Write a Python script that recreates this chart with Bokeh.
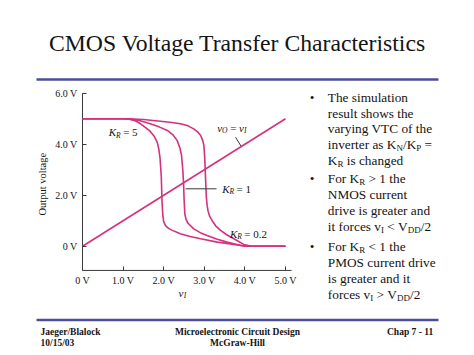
import math
from bokeh.plotting import figure
from bokeh.models import LinearAxis, FixedTicker, Range1d
from bokeh.core.properties import value
from bokeh.embed import file_html
from bokeh.resources import INLINE

# ---------------- data ----------------
VI_LINE_X = [0.0, 5.0]
VI_LINE_Y = [0.0, 5.0]

KR5_X = [0.0, 1.0, 1.14, 1.3, 1.43, 1.57, 1.67, 1.77, 1.84, 1.88, 1.91, 1.94, 1.96, 1.98,
         2.0, 2.05, 2.12, 2.2, 2.41, 2.65, 2.91, 3.32, 3.73, 4.06, 5.0]
KR5_Y = [5.0, 5.0, 4.98, 4.92, 4.80, 4.63, 4.50, 4.30, 4.08, 3.80, 3.45, 2.75, 1.70, 1.20,
         0.95, 0.80, 0.70, 0.63, 0.49, 0.38, 0.29, 0.16, 0.07, 0.0, 0.0]

KR1_X = [0.0, 1.14, 1.4, 1.67, 1.9, 2.09, 2.22, 2.33, 2.40, 2.44, 2.47, 2.49, 2.50, 2.52,
         2.55, 2.60, 2.74, 2.9, 3.07, 3.3, 3.56, 3.89, 4.0, 5.0]
KR1_Y = [5.0, 5.0, 4.93, 4.80, 4.67, 4.54, 4.38, 4.15, 3.85, 3.55, 3.0, 2.45, 1.92, 1.27,
         1.05, 0.90, 0.68, 0.53, 0.42, 0.28, 0.16, 0.03, 0.0, 0.0]

KR02_X = [0.0, 1.14, 1.5, 1.92, 2.2, 2.41, 2.6, 2.74, 2.85, 2.91, 2.96, 2.99, 3.01, 3.03,
          3.05, 3.07, 3.09, 3.13, 3.19, 3.28, 3.40, 3.55, 3.73, 3.97, 4.17, 5.0]
KR02_Y = [5.0, 5.0, 4.97, 4.90, 4.85, 4.80, 4.72, 4.60, 4.46, 4.34, 4.15, 3.95, 3.49, 2.71,
          1.92, 1.60, 1.40, 1.18, 1.01, 0.80, 0.62, 0.45, 0.29, 0.07, 0.0, 0.0]

X_TICKS = [0, 1, 2, 3, 4, 5]
X_TICK_LABELS = ["0 V", "1.0 V", "2.0 V", "3.0 V", "4.0 V", "5.0 V"]
Y_TICKS = [0, 2, 4, 6]
Y_TICK_LABELS = ["0 V", "2.0 V", "4.0 V", "6.0 V"]
AXIS_FLOOR = -0.95
AXIS_RIGHT = 5.15
Y_TOP = 6.0

TITLE = "CMOS Voltage Transfer Characteristics"
Y_LABEL = "Output voltage"
FOOT_LEFT = ["Jaeger/Blalock", "10/15/03"]
FOOT_MID = ["Microelectronic Circuit Design", "McGraw-Hill"]
FOOT_RIGHT = ["Chap 7 - 11"]

BULLETS = [
    [[("The simulation", 0)], [("result shows the", 0)], [("varying VTC of the", 0)],
     [("inverter as K", 0), ("N", 1), ("/K", 0), ("P", 1), (" =", 0)],
     [("K", 0), ("R", 1), (" is changed", 0)]],
    [[("For K", 0), ("R", 1), (" > 1 the", 0)], [("NMOS current", 0)],
     [("drive is greater and", 0)],
     [("it forces v", 0), ("I", 1), (" < V", 0), ("DD", 1), ("/2", 0)]],
    [[("For K", 0), ("R", 1), (" < 1 the", 0)], [("PMOS current drive", 0)],
     [("is greater and it", 0)],
     [("forces v", 0), ("I", 1), (" > V", 0), ("DD", 1), ("/2", 0)]],
]

# ---------------- layout ----------------
W, H = 474, 355
X0PX, Y0PX = 82.0, 245.7   # page pixel of the data origin
SX, SY = 40.6, 25.5         # pixels per volt

def dx(px):  # page pixel -> data x
    return (px - X0PX) / SX

def dy(py):  # page pixel -> data y
    return (Y0PX - py) / SY

SERIF = value("Liberation Serif")
INK = "#141414"
CURVE = "#d4317e"
AXC = "#3a3a3a"
RULE = "#4a4e98"

p = figure(width=W, height=H, output_backend="svg", toolbar_location=None,
           x_range=Range1d(-X0PX / SX, (W - X0PX) / SX),
           y_range=Range1d(-(H - Y0PX) / SY, Y0PX / SY),
           x_axis_type=None, y_axis_type=None, min_border=0,
           outline_line_color=None, background_fill_color="white",
           border_fill_color="white")

# axes (library axes at fixed data locations)
xax = LinearAxis(fixed_location=AXIS_FLOOR, ticker=FixedTicker(ticks=X_TICKS),
                 major_label_overrides={t: l for t, l in zip(X_TICKS, X_TICK_LABELS)})
yax = LinearAxis(fixed_location=0, ticker=FixedTicker(ticks=Y_TICKS),
                 major_label_overrides={t: l for t, l in zip(Y_TICKS, Y_TICK_LABELS)})
for ax in (xax, yax):
    ax.axis_line_color = None
    ax.major_tick_line_color = AXC
    ax.major_tick_in = 4
    ax.major_tick_out = 0
    ax.minor_tick_line_color = None
    ax.major_label_text_font = "Liberation Serif"
    ax.major_label_text_font_size = "10px"
    ax.major_label_text_color = INK
    ax.major_label_standoff = 5
p.add_layout(xax, "below")
p.add_layout(yax, "left")

p.segment(x0=[0, 0], y0=[AXIS_FLOOR, AXIS_FLOOR], x1=[0, AXIS_RIGHT], y1=[Y_TOP, AXIS_FLOOR],
          line_color=AXC, line_width=1)

# curves
for xs, ys in ((VI_LINE_X, VI_LINE_Y), (KR5_X, KR5_Y), (KR1_X, KR1_Y), (KR02_X, KR02_Y)):
    p.line(xs, ys, line_color=CURVE, line_width=1.6)

# slide rules
p.segment(x0=[dx(36), dx(36)], x1=[dx(438), dx(438)], y0=[dy(79), dy(319.5)],
          y1=[dy(79), dy(319.5)], line_color=RULE, line_width=2.5)

TW = {' ': 250, '/': 278, '=': 564, '<': 564, '>': 564, '.': 250, '-': 333,
      'a': 444, 'b': 500, 'c': 444, 'd': 500, 'e': 444, 'f': 333, 'g': 500, 'h': 500,
      'i': 278, 'j': 278, 'k': 500, 'l': 278, 'm': 778, 'n': 500, 'o': 500, 'p': 500,
      'q': 500, 'r': 333, 's': 389, 't': 278, 'u': 500, 'v': 500, 'w': 722, 'x': 500,
      'y': 500, 'z': 444, 'C': 667, 'D': 722, 'F': 556, 'I': 333, 'K': 722, 'M': 889,
      'N': 722, 'O': 722, 'P': 556, 'R': 667, 'S': 556, 'T': 611, 'V': 722}

def width(s, size):
    return sum(TW.get(c, 500) for c in s) / 1000.0 * size

def txt(px, py, s, size, align="left", style="normal", angle=0.0, color=INK):
    # SVG drops leading blanks: move the anchor instead
    if align == "left":
        lead = len(s) - len(s.lstrip(" "))
        px += width(" " * lead, size)
        s = s.lstrip(" ")
    p.text(x=[dx(px)], y=[dy(py)], text=[s], text_font=SERIF,
           text_font_size=value(f"{size}px"), text_font_style=style,
           text_align=align, text_baseline="middle", angle=angle, text_color=color)

# title
txt(237, 42.5, TITLE, 23.7, align="center")

# footer
txt(40, 331.7, FOOT_LEFT[0], 9.5, style="bold")
txt(40, 342.7, FOOT_LEFT[1], 9.5, style="bold")
txt(237, 331.7, FOOT_MID[0], 9.5, align="center", style="bold")
txt(237, 342.7, FOOT_MID[1], 9.5, align="center", style="bold")
txt(432.7, 331.7, FOOT_RIGHT[0], 9.5, align="right", style="bold")

# axis titles
txt(41.7, 183.7, Y_LABEL, 10.5, align="center", angle=math.pi / 2)
txt(178.0, 292.0, "v", 11, style="italic")
txt(183.2, 295.0, "I", 7.5, style="italic")

# curve annotations
LF, SF = 11, 7.5
def kr_label(px, py, rest):
    txt(px, py, "K", LF, style="italic")
    txt(px + 7.3, py + 2.8, "R", SF, style="italic")
    txt(px + 11.6, py, rest, LF)

kr_label(108.3, 131.7, " = 5")
kr_label(221.7, 188.3, " = 1")
kr_label(229.5, 233.0, " = 0.2")

txt(216.7, 127.5, "v", LF, style="italic")
txt(221.6, 130.3, "O", SF, style="italic")
txt(227.0, 127.5, " =", LF)
txt(238.5, 127.5, "v", LF, style="italic")
txt(243.4, 130.3, "I", SF, style="italic")

p.segment(x0=[dx(235), dx(185)], y0=[dy(136.7), dy(188.3)],
          x1=[dx(240.5), dx(216)], y1=[dy(145.5), dy(188.3)], line_color=AXC, line_width=1)

# bullets (rich text with subscripts)
FS, FSS, SUBDY = 13.3, 9.0, 3.6
LINE_Y = [[97.3, 112.5, 128.0, 144.0, 160.0],
          [178.0, 194.0, 210.0, 226.0],
          [246.0, 262.0, 278.0, 293.5]]
TX0, BX = 327.3, 311.7
for bullet, ys in zip(BULLETS, LINE_Y):
    txt(BX, ys[0], "\u2022", FS, align="center")
    for line, ly in zip(bullet, ys):
        cx = TX0
        for seg, sub in line:
            if sub:
                txt(cx, ly + SUBDY, seg, FSS)
                cx += width(seg, FSS)
            else:
                txt(cx, ly, seg, FS)
                cx += width(seg, FS)

open("out.html", "w").write(file_html(p, INLINE))
